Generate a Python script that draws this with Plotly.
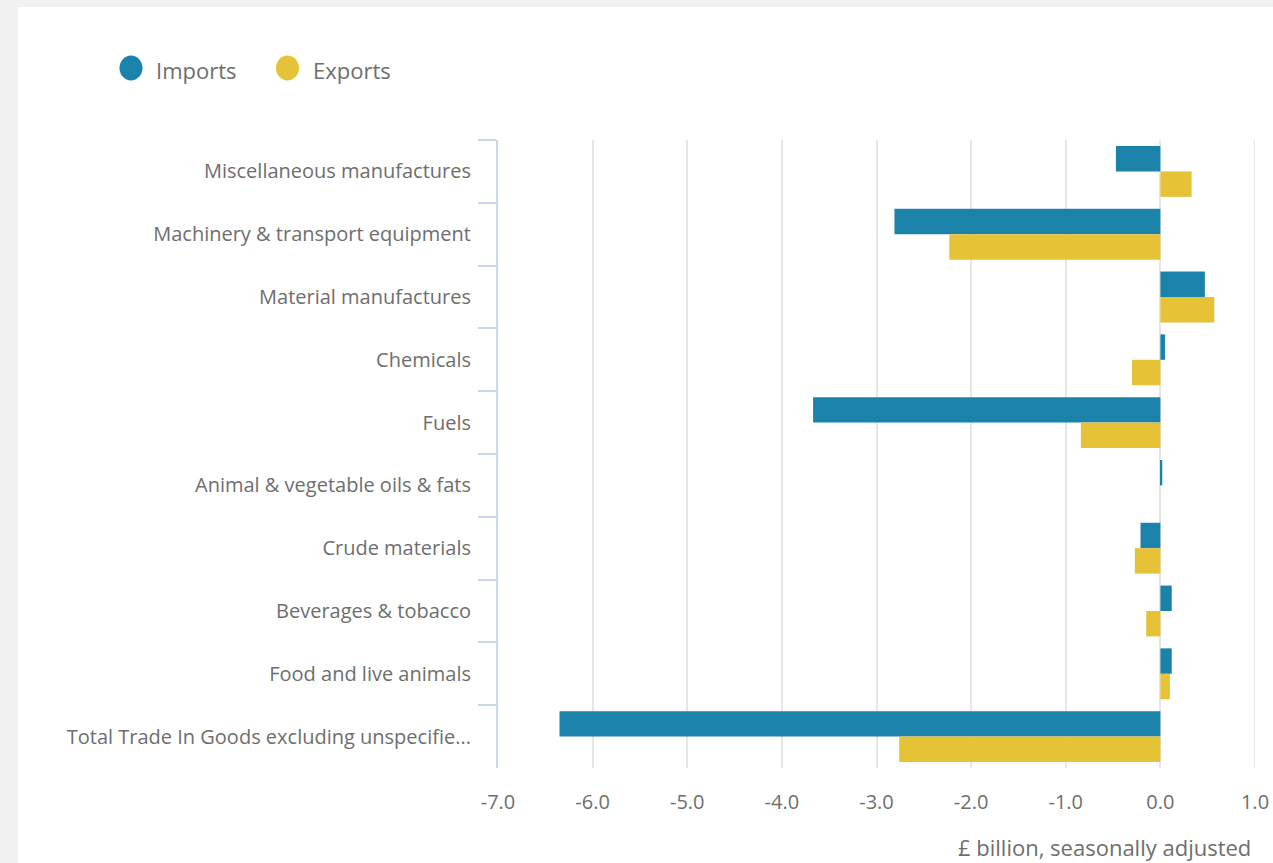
import plotly.graph_objects as go

categories = [
    "Miscellaneous manufactures",
    "Machinery & transport equipment",
    "Material manufactures",
    "Chemicals",
    "Fuels",
    "Animal & vegetable oils & fats",
    "Crude materials",
    "Beverages & tobacco",
    "Food and live animals",
    "Total Trade In Goods excluding unspecifie...",
]
imports = [-0.47, -2.81, 0.47, 0.05, -3.67, 0.02, -0.21, 0.12, 0.12, -6.35]
exports = [0.33, -2.23, 0.57, -0.30, -0.84, 0.0, -0.27, -0.15, 0.10, -2.76]
x_ticks = [-7, -6, -5, -4, -3, -2, -1, 0, 1]
x_tick_text = [f"{v:.1f}" for v in x_ticks]
series_names = ["Imports", "Exports"]

IMP_COLOR = "#1b82aa"
EXP_COLOR = "#e6c237"
TEXT = "#6e6e6e"
GRID = "#e6e6e6"
FONT = "Open Sans"

PLOT_L, PLOT_R, PLOT_T, PLOT_B = 498, 1255, 140, 768
PW, PH = PLOT_R - PLOT_L, PLOT_B - PLOT_T


def px_to_paper_x(px):
    return (px - PLOT_L) / PW


def px_to_paper_y(py):
    return (PLOT_B - py) / PH


fig = go.Figure()
fig.add_trace(go.Bar(y=categories, x=imports, orientation="h", name=series_names[0],
                     marker=dict(color=IMP_COLOR, line=dict(width=0)), showlegend=False))
fig.add_trace(go.Bar(y=categories, x=exports, orientation="h", name=series_names[1],
                     marker=dict(color=EXP_COLOR, line=dict(width=0)), showlegend=False))

shapes = [dict(type="rect", xref="paper", yref="paper", x0=px_to_paper_x(18), x1=1.05,
               y0=-0.2, y1=px_to_paper_y(7), fillcolor="white", line=dict(width=0), layer="below"),
          # gridline at the right edge of the range
          dict(type="line", xref="x", yref="paper", x0=x_ticks[-1], x1=x_ticks[-1], y0=0, y1=1,
               line=dict(color=GRID, width=2), layer="below")]

# custom legend with large circular symbols
legend_items = [(series_names[0], IMP_COLOR, 131, 154), (series_names[1], EXP_COLOR, 287.5, 311)]
annotations = []
for name, color, cx, tx in legend_items:
    shapes.append(dict(type="circle", xref="paper", yref="paper",
                       xsizemode="pixel", ysizemode="pixel",
                       xanchor=px_to_paper_x(cx), yanchor=px_to_paper_y(68),
                       x0=-11.5, x1=11.5, y0=-12.5, y1=12.5,
                       fillcolor=color, line=dict(width=0)))
    annotations.append(dict(text=name, xref="paper", yref="paper",
                            x=px_to_paper_x(tx), y=px_to_paper_y(70),
                            xanchor="left", yanchor="middle", showarrow=False,
                            font=dict(size=22, color=TEXT, family=FONT)))

annotations.append(dict(text="£ billion, seasonally adjusted", xref="paper", yref="paper",
                        x=0.998, y=-0.125, xanchor="right", yanchor="middle", showarrow=False,
                        font=dict(size=22, color=TEXT, family=FONT)))

fig.update_layout(
    width=1273, height=863,
    margin=dict(l=PLOT_L, r=1273 - PLOT_R, t=PLOT_T, b=863 - PLOT_B, autoexpand=False),
    paper_bgcolor="#f1f1f1",
    plot_bgcolor="white",
    barmode="group",
    bargap=0.19,
    bargroupgap=0,
    showlegend=False,
    font=dict(family=FONT, color=TEXT, size=16),
    shapes=shapes,
    annotations=annotations,
)
fig.update_xaxes(
    range=[-7, 1.0], tickvals=x_ticks, ticktext=x_tick_text,
    showgrid=True, gridcolor=GRID, gridwidth=2,
    zeroline=False, showline=False, ticks="", automargin=False,
    tickfont=dict(size=20, color=TEXT), ticklabelstandoff=20,
)
fig.update_yaxes(
    autorange="reversed", categoryorder="array", categoryarray=categories,
    showgrid=False, showline=True, linecolor="#ccd6eb", linewidth=2,
    ticks="outside", tickson="boundaries", ticklen=18, tickcolor="#ccd6eb", tickwidth=2,
    tickfont=dict(size=20, color=TEXT), ticklabelstandoff=21, automargin=False,
)

fig.write_html("out.html")
